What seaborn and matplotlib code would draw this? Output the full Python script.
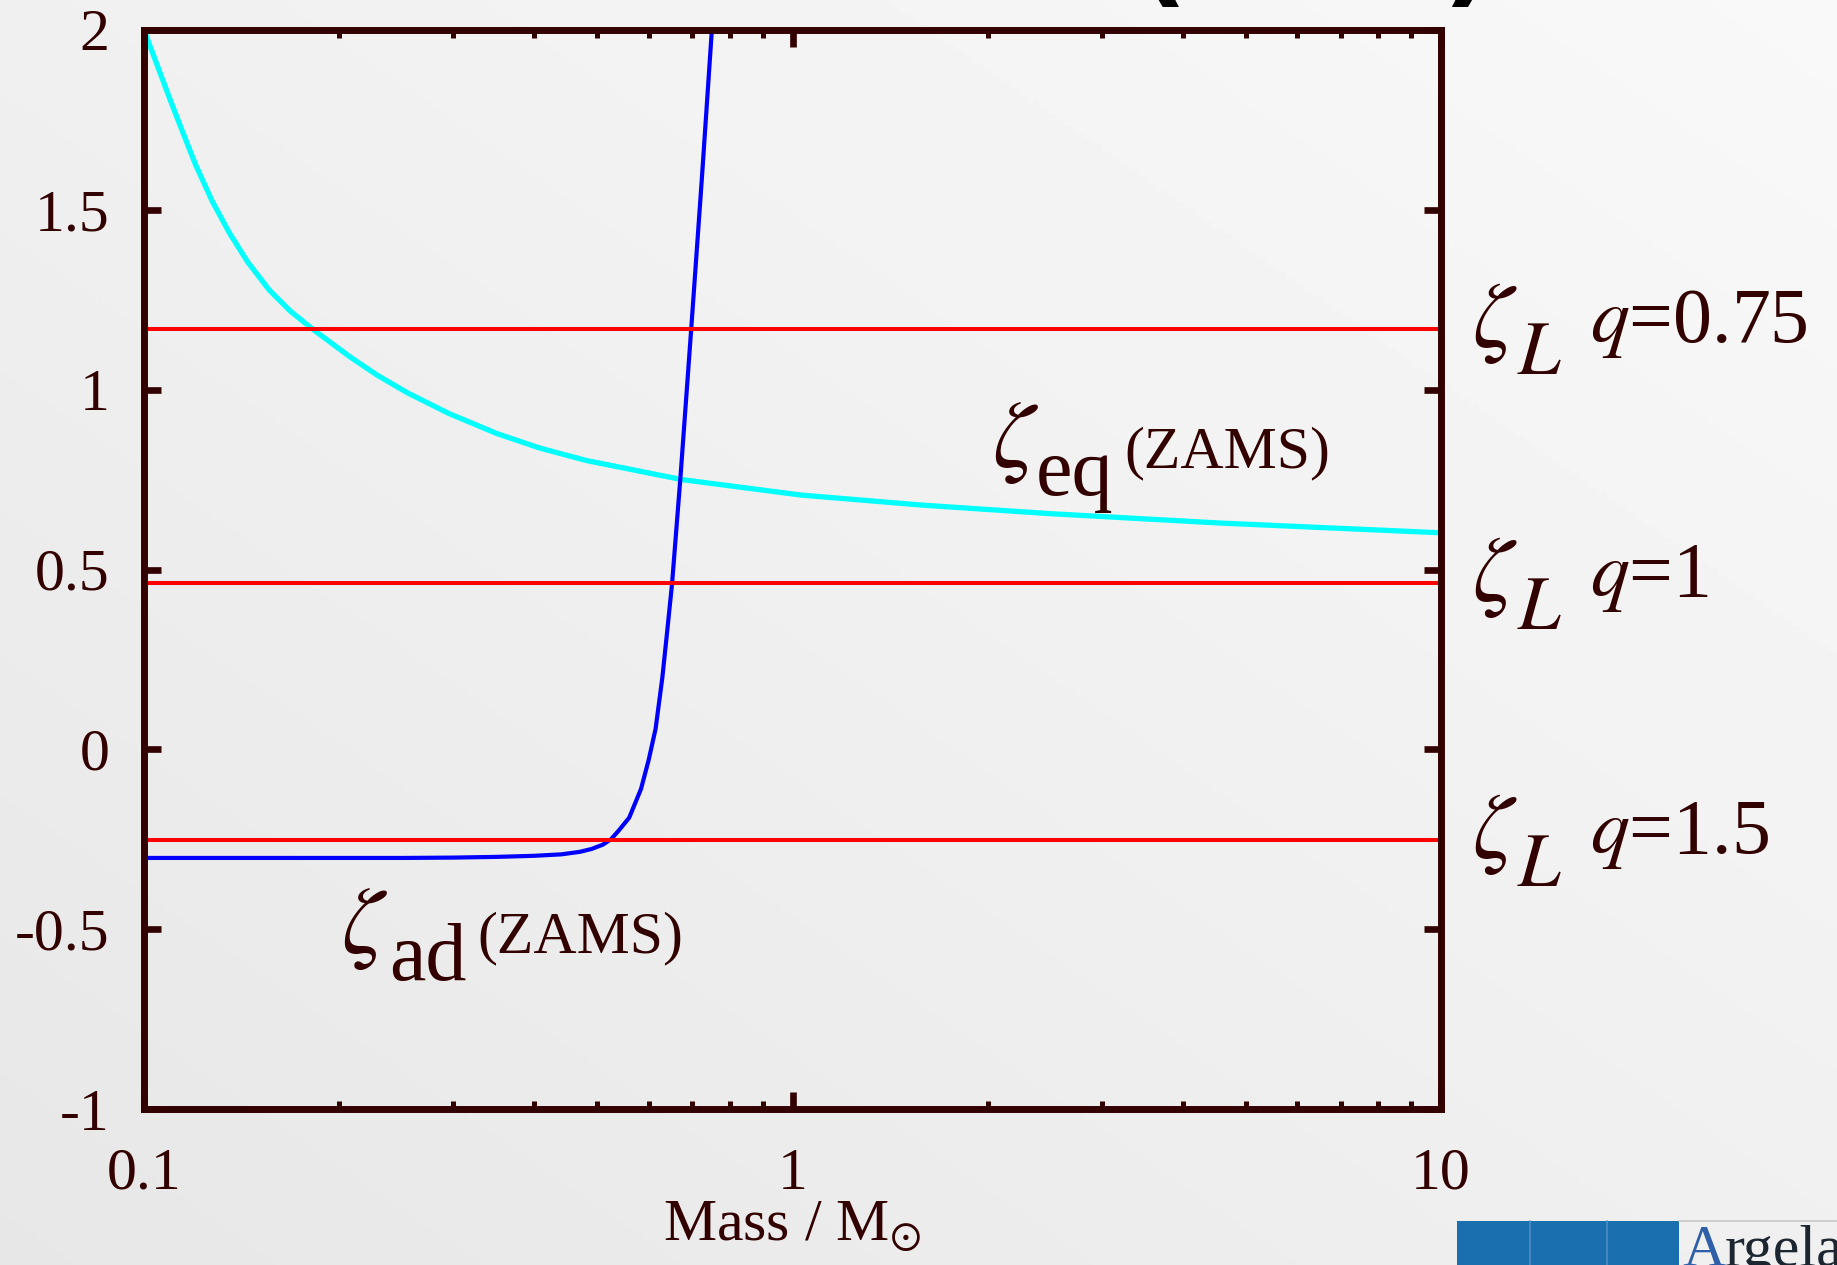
import numpy as np
import matplotlib
matplotlib.use('Agg')
import matplotlib.pyplot as plt
from matplotlib.ticker import LogLocator, NullFormatter
from matplotlib.patches import Rectangle
import seaborn as sns

# zeta_eq (ZAMS) curve
mass_eq = [0.1, 0.1047, 0.11, 0.1148, 0.12, 0.1274, 0.1355, 0.1445, 0.156, 0.168,
           0.1815, 0.2075, 0.229, 0.255, 0.295, 0.35, 0.407, 0.481, 0.675, 1.03,
           1.585, 2.51, 4.58, 10.0]
zeta_eq = [2.0, 1.904, 1.801, 1.715, 1.627, 1.524, 1.435, 1.355, 1.277, 1.219,
           1.17, 1.092, 1.04, 0.991, 0.934, 0.878, 0.838, 0.803, 0.75, 0.707,
           0.679, 0.655, 0.629, 0.602]

# zeta_ad (ZAMS) curve
mass_ad = [0.1, 0.15, 0.2, 0.25, 0.3, 0.35, 0.4, 0.44, 0.47, 0.49, 0.51, 0.525,
           0.54, 0.56, 0.584, 0.6, 0.615, 0.63, 0.641, 0.652, 0.672, 0.698, 0.725, 0.751]
zeta_ad = [-0.302, -0.302, -0.302, -0.302, -0.301, -0.299, -0.296, -0.292, -0.285,
           -0.277, -0.265, -0.25, -0.225, -0.19, -0.11, -0.03, 0.057, 0.2, 0.33,
           0.46, 0.76, 1.17, 1.59, 2.0]

# Roche lobe exponents for the three mass ratios
q_labels = ['0.75', '1', '1.5']
zeta_L = [1.17, 0.463, -0.252]

y_ticks = [-1, -0.5, 0, 0.5, 1, 1.5, 2]
y_ticklabels = ['-1', '-0.5', '0', '0.5', '1', '1.5', '2']
x_ticks = [0.1, 1, 10]
x_ticklabels = ['0.1', '1', '10']

sns.set_theme(style='ticks')
plt.rcParams['font.family'] = ['Liberation Serif', 'DejaVu Serif']
plt.rcParams['mathtext.fontset'] = 'stix'

DARK = '#330000'
W, H = 1837, 1265
fig = plt.figure(figsize=(W / 100, H / 100), dpi=100)


def fxy(x, y):
    # pixel position (origin top-left) -> figure fraction
    return x / W, 1 - y / H


# slide background gradient
bg = fig.add_axes([0, 0, 1, 1], zorder=-10)
xx, yy = np.meshgrid(np.linspace(0, 1, 200), np.linspace(0, 1, 200))
grad = 0.905 + 0.07 * (0.5 * xx + 0.5 * (1 - yy))
bg.imshow(grad, cmap='gray', vmin=0, vmax=1, aspect='auto', extent=[0, 1, 0, 1])
bg.axis('off')

ax = fig.add_axes([144 / W, 156 / H, 1297 / W, 1079 / H])
ax.set_facecolor('none')

sns.lineplot(x=mass_eq, y=zeta_eq, ax=ax, color='#00ffff', lw=3.8)
sns.lineplot(x=mass_ad, y=zeta_ad, ax=ax, color='#0000ff', lw=3.0)
for z in zeta_L:
    ax.axhline(z, color='#ff0000', lw=2.9)

ax.set_xscale('log')
ax.set_xlim(0.1, 10)
ax.set_ylim(-1, 2)
ax.set_xticks(x_ticks)
ax.set_xticklabels(x_ticklabels)
ax.xaxis.set_minor_locator(LogLocator(base=10, subs=range(2, 10)))
ax.xaxis.set_minor_formatter(NullFormatter())
ax.set_yticks(y_ticks)
ax.set_yticklabels(y_ticklabels)

for s in ax.spines.values():
    s.set_visible(True)
    s.set_color(DARK)
    s.set_linewidth(5)

ax.tick_params(axis='both', which='major', direction='in', length=12, width=4.8,
               color=DARK, labelcolor=DARK, labelsize=43, top=True, right=True)
ax.tick_params(axis='x', which='minor', direction='in', length=6, width=3.6,
               color=DARK, top=True)
ax.tick_params(axis='y', which='major', pad=25)
ax.tick_params(axis='x', which='major', pad=28)

ax.set_xlabel(r'Mass / M$_{\odot}$', fontsize=43, color=DARK, labelpad=-2)
ax.set_ylabel('')

# labels for the Roche lobe lines
for q, z in zip(q_labels, zeta_L):
    ax.annotate(r'$\zeta$', xy=(1, z), xycoords=('axes fraction', 'data'),
                xytext=(22, -13), textcoords='offset points', fontsize=66,
                color=DARK, va='baseline', ha='left', annotation_clip=False)
    ax.annotate(r'$L$', xy=(1, z), xycoords=('axes fraction', 'data'),
                xytext=(55, -33), textcoords='offset points', fontsize=55,
                color=DARK, va='baseline', ha='left', annotation_clip=False)
    ax.annotate(r'$q$=' + q, xy=(1, z), xycoords=('axes fraction', 'data'),
                xytext=(107, -9.5), textcoords='offset points', fontsize=56,
                color=DARK, va='baseline', ha='left', annotation_clip=False)

# curve labels
for (zx, zy), (sx, sy, sub), (px, py) in [((992, 467), (1036, 495, 'eq'), (1124, 467)),
                                          ((341, 953), (389, 980, 'ad'), (477, 952))]:
    fig.text(*fxy(zx, zy), r'$\zeta$', fontsize=68, color=DARK, va='baseline')
    fig.text(*fxy(sx, sy), sub, fontsize=59, color=DARK, va='baseline')
    fig.text(*fxy(px, py), '(ZAMS)', fontsize=43, color=DARK, va='baseline')

# cut-off slide title at the top edge
for x, ch in [(1136, '('), (1442, ')')]:
    fig.text(*fxy(x, -8), ch, fontsize=80, color='black', va='baseline',
             family='DejaVu Sans', fontweight='bold')

# institute logo at the bottom right
fig.add_artist(Rectangle(fxy(1457, 1265), 222 / W, 44 / H, transform=fig.transFigure,
                         color='#1a6fae', lw=0))
for x in [1530, 1607]:
    fig.add_artist(plt.Line2D([x / W, x / W], [0, 44 / H], transform=fig.transFigure,
                              color='#4d8ec6', lw=1.2))
fig.add_artist(plt.Line2D([1679 / W, 1], [44 / H, 44 / H], transform=fig.transFigure,
                          color='#c8c8c8', lw=1.2))
fig.text(*fxy(1682, 1266), 'A', fontsize=43, color='#2f5fa8', va='baseline')
fig.text(*fxy(1725, 1266), 'rgelander', fontsize=43, color='#1b2631', va='baseline')

fig.savefig('out.png', dpi=100)
